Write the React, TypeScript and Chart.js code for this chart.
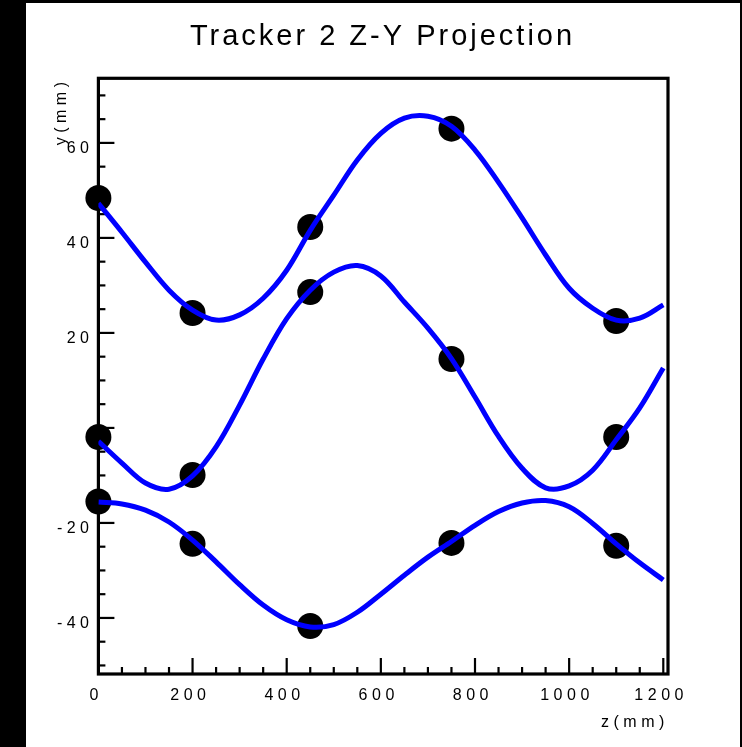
import React, { useEffect, useRef } from "react";
import { Chart, registerables } from "chart.js";

Chart.register(...registerables);

const TITLE = "Tracker 2 Z-Y Projection";
const X_TITLE = "z(mm)";
const Y_TITLE = "y(mm)";

const X_TICK_VALUES = [0, 200, 400, 600, 800, 1000, 1200];
const X_TICK_LABELS = ["0", "200", "400", "600", "800", "1000", "1200"];
const Y_TICK_VALUES = [60, 40, 20, -20, -40];
const Y_TICK_LABELS = ["60", "40", "20", "-20", "-40"];

// measured hits
const HIT_Z = [0, 200, 450, 750, 1100];
const HITS_TOP = [48.4, 24.2, 42.3, 63.0, 22.5];
const HITS_MID = [-1.9, -9.9, 28.6, 14.5, -1.9];
const HITS_BOT = [-15.5, -24.4, -41.7, -24.2, -24.8];

// fitted tracks
const CURVE_Z = [0, 50, 100, 150, 200, 250, 300, 350, 400, 450, 500, 550, 600, 650, 700, 750, 800, 850, 900, 950, 1000, 1050, 1100, 1150, 1200];
const CURVE_TOP = [47.3, 41.2, 34.9, 29.0, 24.8, 22.7, 23.8, 27.3, 33.2, 41.6, 49.0, 56.4, 62.0, 65.2, 65.6, 63.5, 58.5, 51.7, 44.2, 36.4, 29.4, 25.2, 22.7, 23.1, 25.9];
const CURVE_MID = [-2.8, -7.4, -11.6, -12.9, -10.1, -4.0, 4.8, 14.5, 23.0, 29.0, 32.8, 34.2, 32.0, 26.5, 21.0, 14.6, 6.5, -1.8, -8.5, -12.6, -12.2, -8.9, -2.5, 4.2, 12.6];
const CURVE_BOT = [-15.6, -16.0, -17.3, -19.8, -23.6, -28.2, -33.0, -37.3, -40.4, -41.9, -41.4, -38.8, -35.0, -31.0, -27.2, -23.9, -20.5, -17.6, -15.8, -15.3, -16.6, -20.1, -24.4, -28.4, -32.0];

const FONT = '"Liberation Sans", Arial, sans-serif';

function drawSpaced(ctx: CanvasRenderingContext2D, text: string, x: number, y: number, align: "left" | "center" | "right", spacing: number) {
  (ctx as any).letterSpacing = spacing + "px";
  const w = ctx.measureText(text).width;
  const visible = w - spacing;
  let left = x;
  if (align === "center") left = x - visible / 2;
  else if (align === "right") left = x - visible;
  ctx.textAlign = "left";
  ctx.fillText(text, left, y);
}

const framePlugin = {
  id: "rootFrame",
  beforeDatasetsDraw(chart: any) {
    const { ctx, chartArea: a, scales } = chart;
    const x = scales.x;
    const y = scales.y;
    ctx.save();
    ctx.strokeStyle = "#000";
    ctx.lineWidth = 2.2;
    for (let v = 0; v <= 1200; v += 50) {
      const px = x.getPixelForValue(v);
      const len = v % 200 === 0 ? 16 : 7;
      ctx.beginPath();
      ctx.moveTo(px, a.bottom);
      ctx.lineTo(px, a.bottom - len);
      ctx.stroke();
    }
    for (let v = -50; v <= 70; v += 5) {
      const py = y.getPixelForValue(v);
      const len = v % 20 === 0 ? 16 : 7;
      ctx.beginPath();
      ctx.moveTo(a.left, py);
      ctx.lineTo(a.left + len, py);
      ctx.stroke();
    }
    ctx.lineWidth = 3.2;
    ctx.strokeRect(a.left, a.top, a.right - a.left, a.bottom - a.top);
    ctx.restore();
  },
  afterDraw(chart: any) {
    const { ctx, scales } = chart;
    const x = scales.x;
    const y = scales.y;
    ctx.save();
    ctx.fillStyle = "#000";
    ctx.textBaseline = "alphabetic";
    ctx.font = "29px " + FONT;
    drawSpaced(ctx, TITLE, 381, 45, "center", 3);

    ctx.font = "16px " + FONT;
    X_TICK_VALUES.forEach((v, i) => {
      drawSpaced(ctx, X_TICK_LABELS[i], x.getPixelForValue(v) - 4.4, 700, "center", 4.5);
    });
    Y_TICK_VALUES.forEach((v, i) => {
      drawSpaced(ctx, Y_TICK_LABELS[i], 89, y.getPixelForValue(v) + 10.5, "right", 4.5);
    });
    drawSpaced(ctx, X_TITLE, 664.3, 727, "right", 4.5);

    ctx.save();
    ctx.translate(66, 82);
    ctx.rotate(-Math.PI / 2);
    drawSpaced(ctx, Y_TITLE, 0, 0, "right", 4.5);
    ctx.restore();
    ctx.restore();
  },
};

function curve(values: number[]) {
  return {
    data: CURVE_Z.map((z, i) => ({ x: z, y: values[i] })),
    showLine: true,
    borderColor: "#0000ff",
    backgroundColor: "#0000ff",
    borderWidth: 5,
    borderJoinStyle: "round" as const,
    borderCapStyle: "butt" as const,
    pointRadius: 0,
    tension: 0.35,
    order: 0,
  };
}

function hits(values: number[]) {
  return {
    data: HIT_Z.map((z, i) => ({ x: z, y: values[i] })),
    showLine: false,
    pointRadius: 13,
    pointBackgroundColor: "#000",
    pointBorderColor: "#000",
    pointBorderWidth: 0,
    backgroundColor: "#000",
    borderColor: "#000",
    order: 1,
    clip: false as const,
  };
}

export default function App() {
  const ref = useRef<HTMLCanvasElement | null>(null);

  useEffect(() => {
    if (!ref.current) return;
    const chart = new Chart(ref.current, {
      type: "scatter",
      data: {
        datasets: [
          curve(CURVE_TOP),
          curve(CURVE_MID),
          curve(CURVE_BOT),
          hits(HITS_TOP),
          hits(HITS_MID),
          hits(HITS_BOT),
        ] as any,
      },
      options: {
        responsive: false,
        animation: false,
        events: [],
        layout: { padding: { left: 98.4, top: 78.3, right: 742 - 668, bottom: 747 - 674 } },
        plugins: {
          legend: { display: false },
          title: { display: false },
          tooltip: { enabled: false },
        },
        scales: {
          x: { type: "linear", min: 0, max: 1210, display: false },
          y: { type: "linear", min: -51.8, max: 73.6, display: false },
        },
      },
      plugins: [framePlugin],
    });
    return () => chart.destroy();
  }, []);

  return (
    <div style={{ position: "fixed", left: 0, top: 0, width: 742, height: 747, background: "#000", overflow: "hidden" }}>
      <div style={{ position: "absolute", left: 26, top: 3, width: 714, height: 744, background: "#fff" }} />
      <canvas ref={ref} width={742} height={747} style={{ position: "absolute", left: 0, top: 0, width: 742, height: 747 }} />
    </div>
  );
}
